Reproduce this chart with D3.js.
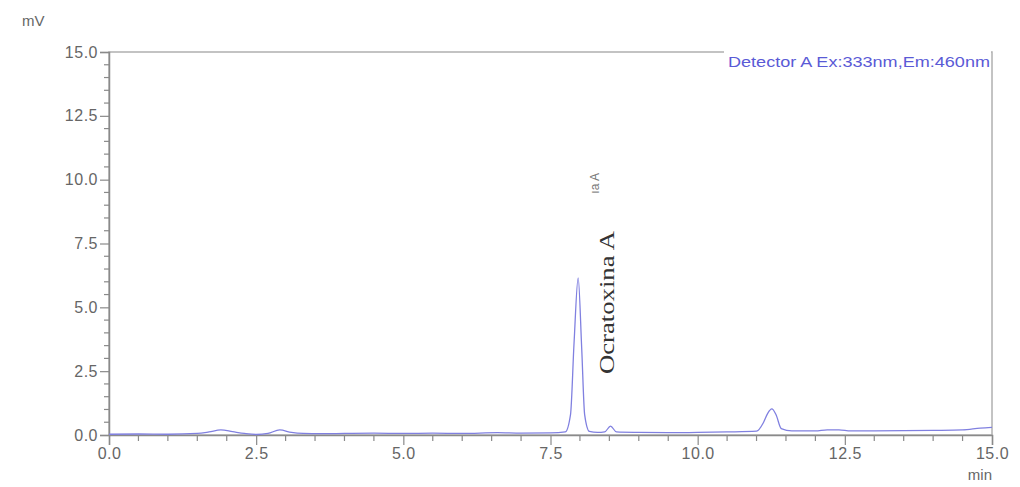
<!DOCTYPE html>
<html>
<head>
<meta charset="utf-8">
<script src="https://cdn.jsdelivr.net/npm/d3@7"></script>
<style>
  body { margin: 0; background: #fff; }
  text { font-family: "Liberation Sans", Arial, sans-serif; }
</style>
</head>
<body>
<div class="chart"></div>
<script>
// retention time (min) and signal (mV)
const times = [0.0, 0.5, 1.0, 1.5, 1.7, 1.9, 2.1, 2.3, 2.5, 2.7, 2.9, 3.1, 3.3, 3.6, 4.0, 4.5,
  5.0, 5.5, 6.0, 6.6, 7.0, 7.5, 7.75, 7.84, 7.9, 7.97, 8.03, 8.08, 8.16, 8.3, 8.42, 8.52, 8.62,
  9.0, 9.5, 10.0, 10.5, 11.0, 11.12, 11.19, 11.26, 11.33, 11.42, 11.6, 12.0, 12.2, 12.4, 12.6,
  13.0, 14.0, 14.5, 14.8, 15.0];
const signal = [0.03, 0.04, 0.03, 0.06, 0.12, 0.2, 0.13, 0.06, 0.02, 0.06, 0.2, 0.1, 0.06, 0.05, 0.06, 0.07,
  0.06, 0.07, 0.06, 0.09, 0.07, 0.08, 0.12, 0.8, 3.6, 6.15, 3.4, 0.8, 0.14, 0.1, 0.12, 0.35, 0.12,
  0.1, 0.09, 0.1, 0.12, 0.15, 0.5, 0.85, 1.02, 0.8, 0.25, 0.16, 0.16, 0.2, 0.2, 0.16,
  0.16, 0.18, 0.2, 0.27, 0.3];

const xTicks = [0, 2.5, 5, 7.5, 10, 12.5, 15];
const yTicks = [0, 2.5, 5, 7.5, 10, 12.5, 15];
const minorStep = 0.5;

const detectorLabel = "Detector A Ex:333nm,Em:460nm";
const peakLabel = "Ocratoxina A";

const w = 1020;
const h = 487;
const plotLeft = 109, plotRight = 992, plotTop = 52, plotBottom = 435;

const xScale = d3.scaleLinear().domain([0, 15]).range([plotLeft, plotRight]);
const yScale = d3.scaleLinear().domain([0, 15]).range([plotBottom, plotTop]);

const svg = d3.select(".chart")
  .append("svg")
  .attr("width", w)
  .attr("height", h);

const axisColor = "#8a8a8a";
const labelColor = "#666";

// frame
svg.append("rect")
  .attr("x", plotLeft)
  .attr("y", plotTop)
  .attr("width", plotRight - plotLeft)
  .attr("height", plotBottom - plotTop)
  .attr("fill", "none")
  .attr("stroke", "#b0b0b0")
  .attr("stroke-width", 1.5);

const minors = d3.range(0, 15 + 0.001, minorStep);

// x axis
const xAxis = d3.axisBottom(xScale)
  .tickValues(xTicks)
  .tickSize(10)
  .tickFormat(d3.format(".1f"));
const gx = svg.append("g")
  .attr("transform", `translate(0, ${plotBottom})`)
  .call(xAxis);
gx.select(".domain").attr("stroke", axisColor).attr("stroke-width", 1.5);
gx.selectAll(".tick line").attr("stroke", axisColor).attr("stroke-width", 1.2);
gx.selectAll(".tick text")
  .attr("fill", labelColor)
  .attr("font-size", 16)
  .attr("y", 13)
  .style("letter-spacing", "0.5px");

svg.append("g")
  .selectAll("line")
  .data(minors.filter(d => xTicks.indexOf(d) < 0))
  .enter()
  .append("line")
  .attr("x1", d => xScale(d))
  .attr("x2", d => xScale(d))
  .attr("y1", plotBottom)
  .attr("y2", plotBottom + 6)
  .attr("stroke", axisColor)
  .attr("stroke-width", 1.2);

// y axis
const yAxis = d3.axisLeft(yScale)
  .tickValues(yTicks)
  .tickSize(9)
  .tickFormat(d3.format(".1f"));
const gy = svg.append("g")
  .attr("transform", `translate(${plotLeft}, 0)`)
  .call(yAxis);
gy.select(".domain").attr("stroke", axisColor).attr("stroke-width", 1.5);
gy.selectAll(".tick line").attr("stroke", axisColor).attr("stroke-width", 1.2);
gy.selectAll(".tick text")
  .attr("fill", labelColor)
  .attr("font-size", 16)
  .attr("x", -11)
  .style("letter-spacing", "0.5px");

svg.append("g")
  .selectAll("line")
  .data(minors.filter(d => yTicks.indexOf(d) < 0))
  .enter()
  .append("line")
  .attr("x1", plotLeft - 5)
  .attr("x2", plotLeft)
  .attr("y1", d => yScale(d))
  .attr("y2", d => yScale(d))
  .attr("stroke", axisColor)
  .attr("stroke-width", 1.2);

// units
svg.append("text")
  .attr("x", 22)
  .attr("y", 26)
  .attr("font-size", 15)
  .attr("fill", labelColor)
  .text("mV");

svg.append("text")
  .attr("x", plotRight)
  .attr("y", 480)
  .attr("text-anchor", "end")
  .attr("font-size", 15)
  .attr("fill", labelColor)
  .text("min");

// detector label
svg.append("rect")
  .attr("x", 724)
  .attr("y", plotTop - 1)
  .attr("width", plotRight - 725)
  .attr("height", 4)
  .attr("fill", "#fff");
svg.append("text")
  .attr("x", 728)
  .attr("y", 67)
  .attr("font-size", 14)
  .attr("fill", "#5a5ad6")
  .attr("textLength", 262)
  .attr("lengthAdjust", "spacingAndGlyphs")
  .text(detectorLabel);

// trace
const trace = times.map((t, i) => [t, signal[i]]);
const line = d3.line()
  .x(d => xScale(d[0]))
  .y(d => yScale(d[1]))
  .curve(d3.curveMonotoneX);

svg.append("path")
  .datum(trace)
  .attr("d", line)
  .attr("fill", "none")
  .attr("stroke", "#8080e0")
  .attr("stroke-width", 1.3);

// instrument peak label (cut off) and the added annotation
svg.append("text")
  .attr("transform", `translate(${xScale(8.0) + 19}, 173) rotate(-90)`)
  .attr("text-anchor", "end")
  .attr("font-size", 12)
  .attr("fill", "#777")
  .text("ıa A");

svg.append("text")
  .attr("transform", `translate(${xScale(8.0) + 34}, 374) rotate(-90)`)
  .style("font-family", "'Liberation Serif', 'Times New Roman', serif")
  .attr("font-size", 21)
  .attr("textLength", 143)
  .attr("lengthAdjust", "spacingAndGlyphs")
  .attr("fill", "#333")
  .text(peakLabel);
</script>
</body>
</html>
